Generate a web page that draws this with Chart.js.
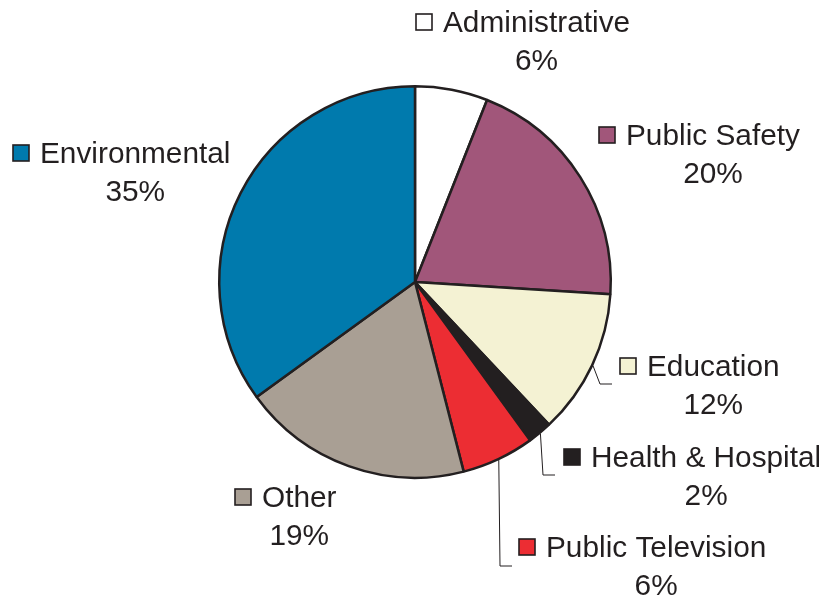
<!DOCTYPE html>
<html>
<head>
<meta charset="utf-8">
<script src="https://cdn.jsdelivr.net/npm/chart.js@4.4.1/dist/chart.umd.min.js"></script>
<style>
  html, body { margin: 0; padding: 0; background: #ffffff; }
  #wrap { width: 819px; height: 598px; position: relative; }
</style>
</head>
<body>
<div id="wrap"><canvas id="piechart"></canvas></div>
<script>
// Spending categories, clockwise from 12 o'clock
const categories = ['Administrative', 'Public Safety', 'Education', 'Health & Hospital', 'Public Television', 'Other', 'Environmental'];
const shares = [6, 20, 12, 2, 6, 19, 35];
const sliceColors = ['#ffffff', '#a1567a', '#f4f2d3', '#231f20', '#ec2d33', '#a99f94', '#007aad'];

// Where each label sits, as offsets from the pie centre (text start, baseline)
const labelOffsets = [
    [28, -250], [211, -137], [232, 94], [176, 185], [131, 275], [-153, 225], [-375, -119]
];
// Leader lines for the crowded slices: elbow and end point, relative to centre
const leaders = {
    2: [[185, 102], [197, 102]],
    3: [[128, 193], [140, 193]],
    4: [[85, 284], [97, 284]]
};

const INK = '#231f20';
const FONT = '29.8px "Liberation Sans", Arial, Helvetica, sans-serif';

const labelPlugin = {
    id: 'sliceLabels',
    afterDraw(chart) {
        const ctx = chart.ctx;
        const arcs = chart.getDatasetMeta(0).data;
        ctx.save();
        ctx.font = FONT;
        ctx.fillStyle = INK;
        ctx.textBaseline = 'alphabetic';
        arcs.forEach(function(arc, i) {
            const cx = arc.x, cy = arc.y;
            const tx = cx + labelOffsets[i][0];
            const ty = cy + labelOffsets[i][1];

            // leader line from the middle of the slice edge
            if (leaders[i]) {
                const mid = (arc.startAngle + arc.endAngle) / 2;
                const r = arc.outerRadius + 1;
                ctx.beginPath();
                ctx.strokeStyle = INK;
                ctx.lineWidth = 1;
                ctx.moveTo(cx + r * Math.cos(mid), cy + r * Math.sin(mid));
                ctx.lineTo(cx + leaders[i][0][0], cy + leaders[i][0][1]);
                ctx.lineTo(cx + leaders[i][1][0], cy + leaders[i][1][1]);
                ctx.stroke();
            }

            // colour key box
            ctx.fillStyle = sliceColors[i];
            ctx.fillRect(tx - 27, ty - 18, 16, 16);
            ctx.strokeStyle = INK;
            ctx.lineWidth = 1.6;
            ctx.strokeRect(tx - 27, ty - 18, 16, 16);

            // name and share
            ctx.fillStyle = INK;
            ctx.textAlign = 'left';
            ctx.fillText(categories[i], tx, ty);
            const w = ctx.measureText(categories[i]).width;
            ctx.textAlign = 'center';
            ctx.fillText(shares[i] + '%', tx + w / 2, ty + 38);
        });
        ctx.restore();
    }
};

const config = {
    type: 'pie',
    data: {
        labels: categories,
        datasets: [{
            data: shares,
            backgroundColor: sliceColors,
            borderColor: INK,
            borderWidth: 2.5,
            hoverOffset: 0
        }]
    },
    options: {
        responsive: false,
        animation: false,
        layout: {
            padding: { top: 85, bottom: 119, left: 218, right: 207 }
        },
        plugins: {
            legend: { display: false },
            tooltip: { enabled: false }
        }
    },
    plugins: [labelPlugin]
};

const canvas = document.getElementById('piechart');
canvas.width = 819;
canvas.height = 598;
new Chart(canvas, config);
</script>
</body>
</html>
